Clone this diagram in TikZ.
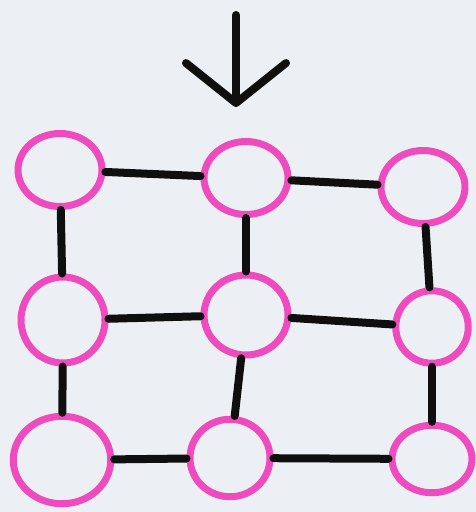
\documentclass[tikz,border=0pt]{standalone}
\usepackage{xcolor}
\usepackage{tikz}
\usetikzlibrary{shapes.geometric, arrows.meta, positioning}
\definecolor{mypink}{RGB}{238,76,190}
\definecolor{mydark}{RGB}{15,15,15}
\definecolor{mypaper}{RGB}{236,240,245}
\tikzset{
  ring/.style={ellipse, draw=mypink, line width=0.14cm,
    minimum width=1.68cm, minimum height=1.46cm, inner sep=0pt},
  link/.style={line width=0.16cm, color=mydark, line cap=round},
  pointer/.style={line width=0.16cm, color=mydark, line cap=round, line join=round,
    -{Straight Barb[length=0.8cm, width=2cm, line cap=round, line join=round]}}
}

\begin{document}
\begin{tikzpicture}[x=0.02cm, y=-0.02cm]
  % paper
  \fill[mypaper] (0,0) rectangle (476,512);
  \useasboundingbox (0,0) rectangle (476,512);

  % Top row
  \node[ring] (a1) at (60,170) {};
  \node[ring] (a2) at (246,178) {};
  \node[ring] (a3) at (423,187) {};

  % Middle row
  \node[ring, minimum height=1.72cm] (b1) at (63,320) {};
  \node[ring, minimum height=1.6cm] (b2) at (246,315) {};
  \node[ring, minimum width=1.45cm, minimum height=1.45cm] (b3) at (432,327) {};

  % Bottom row
  \node[ring, minimum width=1.95cm, minimum height=1.75cm] (c1) at (62,460) {};
  \node[ring, minimum width=1.6cm, minimum height=1.55cm] (c2) at (230,458) {};
  \node[ring, minimum width=1.6cm, minimum height=1.35cm] (c3) at (432,459) {};

  % Start marker
  \coordinate (start) at (236,15);
  \draw[pointer, shorten >=0.62cm] (start) -- (start |- a2.north);

  % Horizontal links
  \draw[link] (a1) -- (a2);
  \draw[link] (a2) -- (a3);
  \draw[link] (b1) -- (b2);
  \draw[link] (b2) -- (b3);
  \draw[link] (c1) -- (c2);
  \draw[link] (c2) -- (c3);

  % Vertical links
  \draw[link] (a1) -- (b1);
  \draw[link] (b1) -- (c1);
  \draw[link] (a2) -- (b2);
  \draw[link] (b2) -- (c2);
  \draw[link] (a3) -- (b3);
  \draw[link] (b3) -- (c3);
\end{tikzpicture}
\end{document}
